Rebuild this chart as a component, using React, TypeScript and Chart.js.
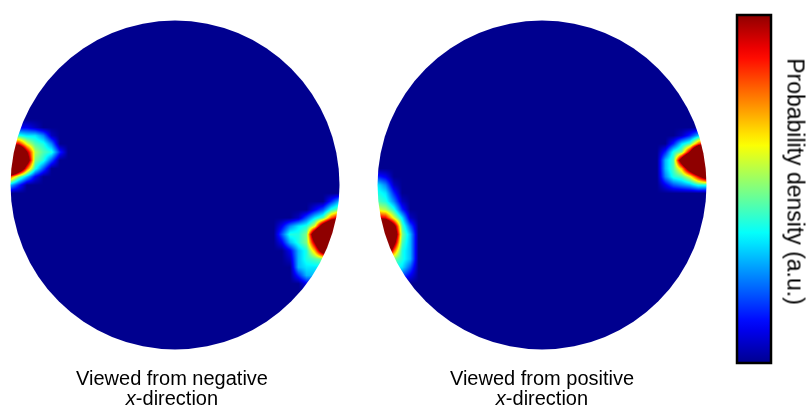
import React, { useEffect, useRef } from "react";
import { Chart, registerables } from "chart.js";

Chart.register(...registerables);

// ---- data (grid node values, node spacing GRID_STEP in disk-radius units) ----
const GRID_STEP = 0.05;
const DISK_CENTERS = [0, 2.231]; // x of disk centres (y = 0), radius 1
const DISK_CAPTIONS = ["Viewed from negative", "Viewed from positive"];
const CAPTION_LINE2 = "-direction";
const COLORBAR_LABEL = "Probability density (a.u.)";

// Disk 1 (negative x) – spot on left edge; top-left node (i, j)
const negLeftSpotOrigin = [-21, 7];
const negLeftSpot = [
  [0, 0.1, 0.1, 0.1, 0.05, 0, 0, 0],
  [0.35, 0.4, 0.4, 0.35, 0.35, 0.25, 0.05, 0],
  [0.95, 0.95, 0.9, 0.6, 0.45, 0.4, 0.25, 0],
  [2, 2, 1.6, 1.0, 0.55, 0.45, 0.4, 0.15],
  [2, 2, 1.6, 1.2, 0.5, 0.4, 0.2, 0],
  [2, 2, 1.4, 0.8, 0.4, 0.2, 0, 0],
  [0.8, 0.8, 0.5, 0.3, 0.1, 0, 0, 0],
  [0.3, 0.3, 0.15, 0, 0, 0, 0, 0],
];

// Disk 1 – spot on lower right edge
const negRightSpotOrigin = [13, -2];
const negRightSpot = [
  [0, 0, 0, 0, 0, 0, 0.15, 0.3, 0.3],
  [0, 0, 0, 0, 0.1, 0.2, 0.4, 0.5, 0.5],
  [0, 0, 0.05, 0.2, 0.35, 0.45, 0.8, 1.0, 1.0],
  [0.1, 0.25, 0.35, 0.4, 0.6, 1.2, 1.6, 1.6, 1.6],
  [0.2, 0.4, 0.4, 0.5, 1.3, 2, 2, 2, 2],
  [0.1, 0.3, 0.4, 0.5, 1.0, 1.6, 2, 2, 2],
  [0, 0.1, 0.3, 0.4, 0.7, 1.2, 1.5, 1.5, 1.5],
  [0, 0.05, 0.3, 0.4, 0.45, 0.5, 0.6, 0.6, 0.6],
  [0, 0, 0.3, 0.35, 0.35, 0.35, 0.35, 0.35, 0.35],
  [0, 0, 0.15, 0.3, 0.3, 0.25, 0.25, 0.25, 0.25],
  [0, 0, 0, 0.1, 0.1, 0.1, 0.1, 0.1, 0.1],
];

// Disk 2 (positive x) – spot on lower left edge
const posLeftSpotOrigin = [-21, 1];
const posLeftSpot = [
  [0.15, 0.15, 0.1, 0, 0, 0, 0],
  [0.35, 0.35, 0.25, 0.05, 0, 0, 0],
  [0.4, 0.4, 0.35, 0.15, 0, 0, 0],
  [0.45, 0.45, 0.4, 0.25, 0.05, 0, 0],
  [0.6, 0.6, 0.55, 0.4, 0.15, 0, 0],
  [0.95, 0.95, 0.9, 0.6, 0.35, 0.05, 0],
  [2, 2, 1.6, 1.1, 0.45, 0.2, 0],
  [2, 2, 2, 1.3, 0.5, 0.3, 0],
  [2, 2, 1.8, 1.1, 0.45, 0.3, 0],
  [2, 2, 1.4, 0.8, 0.4, 0.3, 0],
  [1, 1, 0.7, 0.5, 0.4, 0.3, 0],
  [0.5, 0.5, 0.45, 0.4, 0.35, 0.2, 0],
  [0.25, 0.25, 0.25, 0.25, 0.2, 0.1, 0],
  [0, 0, 0, 0, 0, 0, 0],
];

// Disk 2 – spot on upper right edge
const posRightSpotOrigin = [14, 6];
const posRightSpot = [
  [0, 0, 0, 0.05, 0.15, 0.3, 0.35, 0.35],
  [0, 0, 0.15, 0.35, 0.45, 0.8, 1, 1],
  [0, 0.15, 0.4, 0.5, 1.0, 1.8, 2, 2],
  [0, 0.3, 0.45, 1.2, 1.8, 2, 2, 2],
  [0, 0.3, 0.45, 0.7, 1.2, 1.6, 2, 2],
  [0, 0.25, 0.4, 0.45, 0.6, 0.9, 1.2, 1.2],
  [0, 0.1, 0.2, 0.25, 0.3, 0.4, 0.4, 0.4],
  [0, 0, 0, 0, 0, 0, 0, 0],
];

const DISK_SPOTS = [
  [
    { origin: negLeftSpotOrigin, rows: negLeftSpot },
    { origin: negRightSpotOrigin, rows: negRightSpot },
  ],
  [
    { origin: posLeftSpotOrigin, rows: posLeftSpot },
    { origin: posRightSpotOrigin, rows: posRightSpot },
  ],
];

// ---- colormap (jet) ----
function jet(v: number): [number, number, number] {
  const c = Math.max(0, Math.min(1, v));
  const t = 1 / 64 + c * (62 / 64);
  const cl = (a: number) => Math.max(0, Math.min(1, a));
  const r = cl(Math.min(4 * t - 1.5, -4 * t + 4.5));
  const g = cl(Math.min(4 * t - 0.5, -4 * t + 3.5));
  const b = cl(Math.min(4 * t + 0.5, -4 * t + 2.5));
  return [Math.round(r * 255), Math.round(g * 255), Math.round(b * 255)];
}

function buildNodeMap(spots: { origin: number[]; rows: number[][] }[]) {
  const m = new Map<string, number>();
  for (const s of spots) {
    s.rows.forEach((row, r) =>
      row.forEach((v, c) => {
        m.set(`${s.origin[0] + c},${s.origin[1] - r}`, v);
      })
    );
  }
  return m;
}

const heatPlugin = {
  id: "diskHeat",
  beforeDatasetsDraw(chart: any) {
    const { ctx, scales } = chart;
    const xs = scales.x;
    const ys = scales.y;
    DISK_CENTERS.forEach((cx, d) => {
      const nodes = buildNodeMap(DISK_SPOTS[d]);
      const node = (i: number, j: number) => nodes.get(`${i},${j}`) ?? 0;
      const left = Math.floor(xs.getPixelForValue(cx - 1)) - 1;
      const right = Math.ceil(xs.getPixelForValue(cx + 1)) + 1;
      const top = Math.floor(ys.getPixelForValue(1)) - 1;
      const bottom = Math.ceil(ys.getPixelForValue(-1)) + 1;
      const W = right - left;
      const H = bottom - top;
      const off = document.createElement("canvas");
      off.width = W;
      off.height = H;
      const octx = off.getContext("2d")!;
      const img = octx.createImageData(W, H);
      for (let py = 0; py < H; py++) {
        const dy = ys.getValueForPixel(top + py + 0.5);
        const gj = dy / GRID_STEP;
        const j0 = Math.floor(gj);
        const fy = gj - j0;
        for (let px = 0; px < W; px++) {
          const dx = xs.getValueForPixel(left + px + 0.5) - cx;
          const gi = dx / GRID_STEP;
          const i0 = Math.floor(gi);
          const fx = gi - i0;
          const v =
            node(i0, j0) * (1 - fx) * (1 - fy) +
            node(i0 + 1, j0) * fx * (1 - fy) +
            node(i0, j0 + 1) * (1 - fx) * fy +
            node(i0 + 1, j0 + 1) * fx * fy;
          const [r, g, b] = jet(v);
          const k = (py * W + px) * 4;
          img.data[k] = r;
          img.data[k + 1] = g;
          img.data[k + 2] = b;
          img.data[k + 3] = 255;
        }
      }
      octx.putImageData(img, 0, 0);
      const pcx = xs.getPixelForValue(cx);
      const pcy = ys.getPixelForValue(0);
      const rad = xs.getPixelForValue(cx + 1) - pcx;
      ctx.save();
      ctx.beginPath();
      ctx.arc(pcx, pcy, rad, 0, Math.PI * 2);
      ctx.clip();
      ctx.drawImage(off, left, top);
      ctx.restore();
    });

    // colour bar
    const bx = 737, by = 15, bw = 34, bh = 348;
    const grad = ctx.createLinearGradient(0, by + bh, 0, by);
    for (let s = 0; s <= 32; s++) {
      const [r, g, b] = jet(s / 32);
      grad.addColorStop(s / 32, `rgb(${r},${g},${b})`);
    }
    ctx.save();
    ctx.fillStyle = grad;
    ctx.fillRect(bx, by, bw, bh);
    ctx.lineWidth = 2.5;
    ctx.strokeStyle = "#000";
    ctx.strokeRect(bx, by, bw, bh);
    ctx.restore();
  },
};

export default function App() {
  const canvasRef = useRef<HTMLCanvasElement | null>(null);

  useEffect(() => {
    document.body.style.margin = "0";
    const canvas = canvasRef.current!;
    const datasets = DISK_CENTERS.map((cx, d) => ({
      label: DISK_CAPTIONS[d],
      data: DISK_SPOTS[d].flatMap((s) =>
        s.rows.flatMap((row, r) =>
          row.map((v, c) => ({
            x: cx + (s.origin[0] + c) * GRID_STEP,
            y: (s.origin[1] - r) * GRID_STEP,
            v,
          }))
        )
      ),
      pointRadius: 0,
      pointHoverRadius: 0,
      showLine: false,
    }));
    const chart = new Chart(canvas, {
      type: "scatter",
      data: { datasets },
      options: {
        animation: false,
        responsive: false,
        events: [],
        layout: { padding: 0 },
        plugins: { legend: { display: false }, tooltip: { enabled: false }, title: { display: false } },
        scales: {
          x: { type: "linear", min: -1.064, max: 3.848, display: false },
          y: { type: "linear", min: -1.374, max: 1.125, display: false },
        },
      },
      plugins: [heatPlugin],
    });
    return () => chart.destroy();
  }, []);

  const font = "'Liberation Sans', Arial, Helvetica, sans-serif";
  const captionStyle = (center: number): React.CSSProperties => ({
    position: "absolute",
    left: center - 150,
    top: 369,
    width: 300,
    textAlign: "center",
    fontFamily: font,
    fontSize: 20,
    lineHeight: "19.5px",
    color: "#000",
  });

  return (
    <div style={{ position: "relative", width: 808, height: 411, background: "#fff", overflow: "hidden" }}>
      <canvas ref={canvasRef} width={808} height={411} style={{ display: "block" }} />
      {[172, 542].map((c, d) => (
        <div key={d} style={captionStyle(c)}>
          {DISK_CAPTIONS[d]}
          <br />
          <i>x</i>
          {CAPTION_LINE2}
        </div>
      ))}
      <div
        style={{
          position: "absolute",
          left: 795 - 150,
          top: 181 - 11.5,
          width: 300,
          height: 23,
          lineHeight: "23px",
          textAlign: "center",
          fontFamily: font,
          fontSize: 23,
          color: "#000",
          transform: "rotate(90deg)",
          transformOrigin: "50% 50%",
          whiteSpace: "nowrap",
        }}
      >
        {COLORBAR_LABEL}
      </div>
    </div>
  );
}
